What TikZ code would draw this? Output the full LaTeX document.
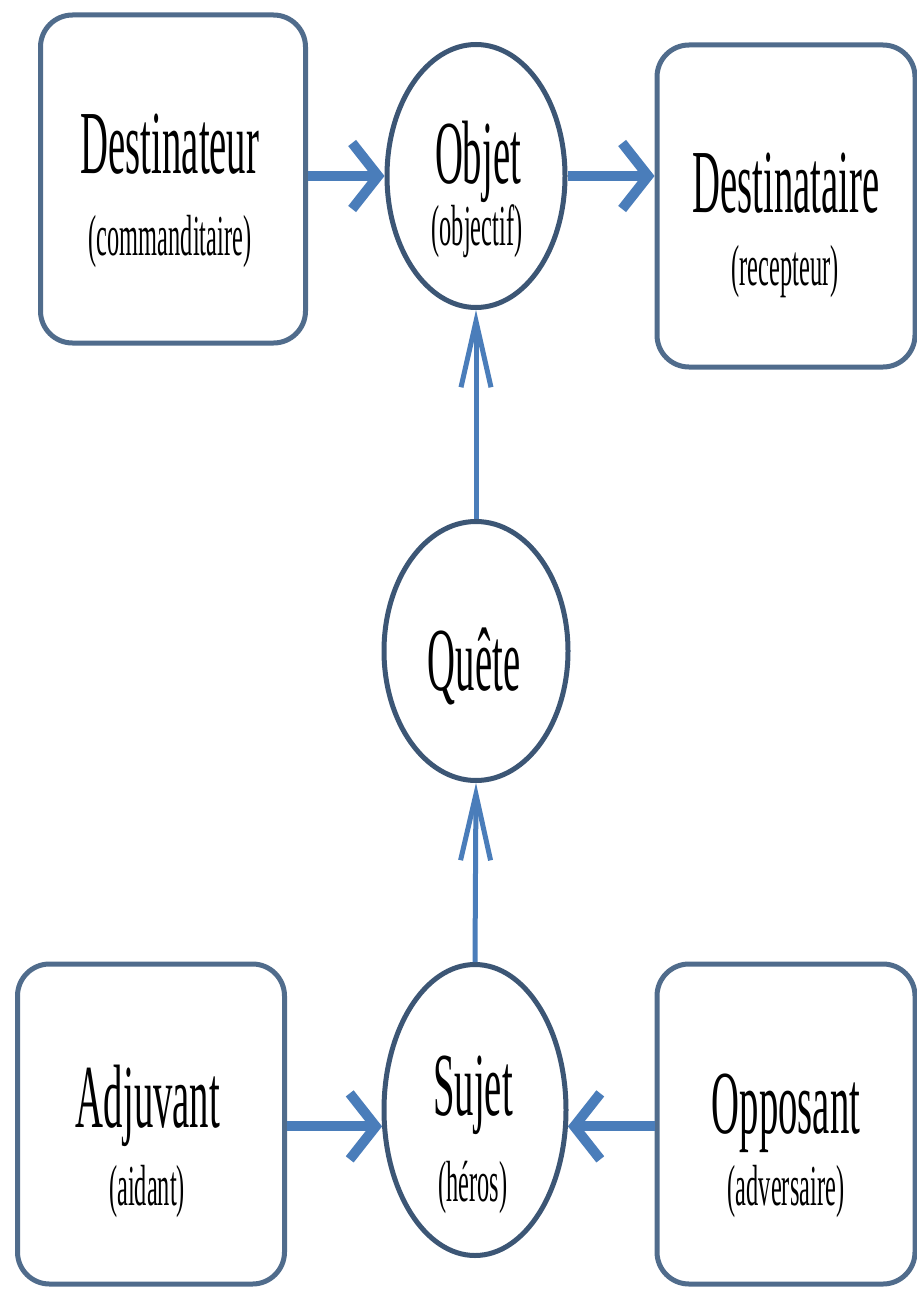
\documentclass[tikz,border=0pt]{standalone}
\usepackage{fontspec}
\setmainfont{Liberation Serif}
\newfontfamily\nameserif[FakeStretch=0.43]{Liberation Serif}
\newfontfamily\roleserif[FakeStretch=0.42]{Liberation Serif}
\usepackage{tikz}
\usetikzlibrary{arrows.meta}
\usetikzlibrary{shapes.geometric}
\usetikzlibrary{positioning}

\definecolor{boxline}{HTML}{506C8C}
\definecolor{ringline}{HTML}{3C5675}
\definecolor{arrowblue}{HTML}{4A7DBA}

\tikzset{
    rolebox/.style={draw=boxline, line width=5pt, rounded corners=32pt, fill=white, inner sep=0pt},
    ring/.style={ellipse, draw=ringline, line width=5pt, fill=white, inner sep=0pt},
    bigword/.style={anchor=base, font=\nameserif\fontsize{90}{95}\selectfont},
    smallword/.style={anchor=base, font=\roleserif\fontsize{58}{62}\selectfont},
    widearrow/.style={arrowblue, line width=10pt, -{Straight Barb[length=26pt, width=66pt]}},
    thinarrow/.style={arrowblue, line width=5pt, -{Straight Barb[length=66pt, width=30pt]}},
}

\begin{document}
\begin{tikzpicture}[x=1pt, y=-1pt]
    \useasboundingbox[fill=white] (0,0) rectangle (917,1290);

    % Boxes
    \node[rolebox, minimum width=265pt, minimum height=328pt] (destinateur) at (173,179) {};
    \node[rolebox, minimum width=258pt, minimum height=322pt] (destinataire) at (786,206) {};
    \node[rolebox, minimum width=267pt, minimum height=320pt] (adjuvant) at (151,1124) {};
    \node[rolebox, minimum width=258pt, minimum height=320pt] (opposant) at (786,1124) {};

    % Rings
    \node[ring, minimum width=178pt, minimum height=263pt] (objet) at (476,176) {};
    \node[ring, minimum width=184pt, minimum height=259pt] (quete) at (476,651) {};
    \node[ring, minimum width=182pt, minimum height=291pt] (sujet) at (475,1110) {};

    % Words
    \node[bigword] (destinateur-name) at (170,173) {Destinateur};
    \node[smallword] (destinateur-role) at (170,255) {(commanditaire)};
    \node[bigword] (objet-name) at (478,183) {Objet};
    \node[smallword] (objet-role) at (477,245) {(objectif)};
    \node[bigword] (destinataire-name) at (786,212) {Destinataire};
    \node[smallword] (destinataire-role) at (785,285) {(recepteur)};
    \node[bigword] (quete-name) at (474,690) {Quête};
    \node[bigword] (adjuvant-name) at (148,1127) {Adjuvant};
    \node[smallword] (adjuvant-role) at (147,1205) {(aidant)};
    \node[bigword] (sujet-name) at (473,1115) {Sujet};
    \node[smallword] (sujet-role) at (473,1201) {(héros)};
    \node[bigword] (opposant-name) at (786,1133) {Opposant};
    \node[smallword] (opposant-role) at (786,1205) {(adversaire)};

    % Arrows
    \draw[widearrow] (destinateur.east |- objet.west) -- (objet.west);
    \draw[widearrow] (objet.east) -- (destinataire.west |- objet.east);
    \draw[thinarrow] (quete.north) -- (objet.south);
    \draw[thinarrow] (sujet.north) -- (quete.south);
    \draw[widearrow] (adjuvant.east |- sujet.190) -- (sujet.190);
    \draw[widearrow] (opposant.west |- sujet.350) -- (sujet.350);
\end{tikzpicture}
\end{document}
